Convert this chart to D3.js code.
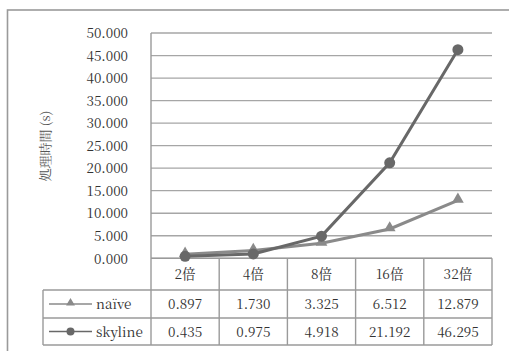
<!DOCTYPE html>
<html>
<head>
<meta charset="utf-8">
<script src="https://cdn.jsdelivr.net/npm/d3@7"></script>
<style>
  html, body { margin: 0; padding: 0; background: #fff; }
  svg { display: block; }
  .lbl { font-family: "Noto Serif CJK JP", "Liberation Serif", serif !important; font-size: 13.5px !important; fill: #333; }
  .ttl { font-family: "Noto Serif CJK JP", "Liberation Serif", serif; font-size: 13px; fill: #555; }
</style>
</head>
<body>
<svg id="chart" width="509" height="351"></svg>
<script>
// Processing time per data-size multiplier
const categories = ["2倍", "4倍", "8倍", "16倍", "32倍"];
const naive = [0.897, 1.730, 3.325, 6.512, 12.879];
const skyline = [0.435, 0.975, 4.918, 21.192, 46.295];
const seriesNames = ["naïve", "skyline"];
const yTicks = [0, 5, 10, 15, 20, 25, 30, 35, 40, 45, 50];
const yTitle = "処理時間 (s)";

const gridColor = "#a6a6a6";
const borderColor = "#9a9a9a";
const colors = { "naïve": "#8a8a8a", "skyline": "#686868" };

const svg = d3.select("#chart");

// Outer frame (runs past the right and bottom edges)
svg.append("rect")
  .attr("x", 7.5).attr("y", 10)
  .attr("width", 520).attr("height", 360)
  .attr("fill", "none")
  .attr("stroke", borderColor).attr("stroke-width", 1.6);

const plotLeft = 151, plotRight = 492;
const x = d3.scaleBand().domain(categories).range([plotLeft, plotRight]);
const y = d3.scaleLinear().domain([0, 50]).range([258.3, 33]);
const cx = c => x(c) + x.bandwidth() / 2;

// Horizontal gridlines
svg.append("g")
  .selectAll("line").data(yTicks).join("line")
  .attr("x1", plotLeft).attr("x2", plotRight)
  .attr("y1", d => y(d)).attr("y2", d => y(d))
  .attr("stroke", gridColor).attr("stroke-width", 1.3);

// Y axis labels
const yAxis = d3.axisLeft(y).tickValues(yTicks).tickFormat(d3.format(".3f")).tickSize(0).tickPadding(0);
const yg = svg.append("g").attr("transform", `translate(128,0)`).call(yAxis);
yg.select(".domain").remove();
yg.attr("font-family", null).attr("font-size", null);
yg.selectAll("text").attr("class", "lbl").attr("fill", null).attr("dy", "0.35em");

// Y axis title
svg.append("text")
  .attr("class", "ttl")
  .attr("transform", "translate(50,146) rotate(-90)")
  .attr("text-anchor", "middle")
  .text(yTitle);

// Data table below the plot
const rowTops = [258.3, 290, 318, 345];
const tableLeft = 43;
const tg = svg.append("g");

function gridLine(x1, x2, y1, y2) {
  tg.append("line")
    .attr("x1", x1).attr("x2", x2).attr("y1", y1).attr("y2", y2)
    .attr("stroke", borderColor).attr("stroke-width", 1.4);
}

// vertical column lines
const colEdges = [plotLeft].concat(categories.map(c => x(c) + x.bandwidth()));
colEdges.forEach(ex => gridLine(ex, ex, ex === plotLeft ? y(50) : rowTops[0], rowTops[3]));
gridLine(tableLeft, tableLeft, rowTops[1], rowTops[3]);
// horizontal row lines
rowTops.forEach((ry, i) => gridLine(i === 0 ? plotLeft : tableLeft, plotRight, ry, ry));

// category header row
tg.selectAll("text.cat").data(categories).join("text")
  .attr("class", "lbl cat")
  .attr("x", d => cx(d))
  .attr("y", (rowTops[0] + rowTops[1]) / 2 + 5)
  .attr("text-anchor", "middle")
  .text(d => d);

const seriesData = [naive, skyline];
const fmt = d3.format(".3f");
seriesData.forEach((vals, si) => {
  const rowY = (rowTops[si + 1] + rowTops[si + 2]) / 2;
  tg.selectAll(null).data(vals).join("text")
    .attr("class", "lbl")
    .attr("x", (d, i) => cx(categories[i]))
    .attr("y", rowY + 5)
    .attr("text-anchor", "middle")
    .text(d => fmt(d));
  // legend key
  const name = seriesNames[si];
  tg.append("line")
    .attr("x1", 49).attr("x2", 92).attr("y1", rowY).attr("y2", rowY)
    .attr("stroke", colors[name]).attr("stroke-width", 1.6);
  if (si === 0) {
    tg.append("path")
      .attr("d", d3.symbol(d3.symbolTriangle, 34)())
      .attr("transform", `translate(70.5,${rowY - 1})`)
      .attr("fill", colors[name]);
  } else {
    tg.append("circle").attr("cx", 70.5).attr("cy", rowY).attr("r", 4)
      .attr("fill", colors[name]);
  }
  tg.append("text")
    .attr("class", "lbl")
    .attr("x", 96).attr("y", rowY + 5)
    .text(name);
});

// Series lines and markers (skyline drawn on top)
const line = d3.line()
  .x((d, i) => cx(categories[i]))
  .y(d => y(d));

const ng = svg.append("g");
ng.append("path").datum(naive)
  .attr("d", line).attr("fill", "none")
  .attr("stroke", colors["naïve"]).attr("stroke-width", 3);
ng.selectAll("path.m").data(naive).join("path")
  .attr("class", "m")
  .attr("d", d3.symbol(d3.symbolTriangle, 60)())
  .attr("transform", (d, i) => `translate(${cx(categories[i])},${y(d) - 1})`)
  .attr("fill", colors["naïve"]);

const sg = svg.append("g");
sg.append("path").datum(skyline)
  .attr("d", line).attr("fill", "none")
  .attr("stroke", colors["skyline"]).attr("stroke-width", 3);
sg.selectAll("circle").data(skyline).join("circle")
  .attr("cx", (d, i) => cx(categories[i]))
  .attr("cy", d => y(d))
  .attr("r", 5.5)
  .attr("fill", colors["skyline"]);
</script>
</body>
</html>
